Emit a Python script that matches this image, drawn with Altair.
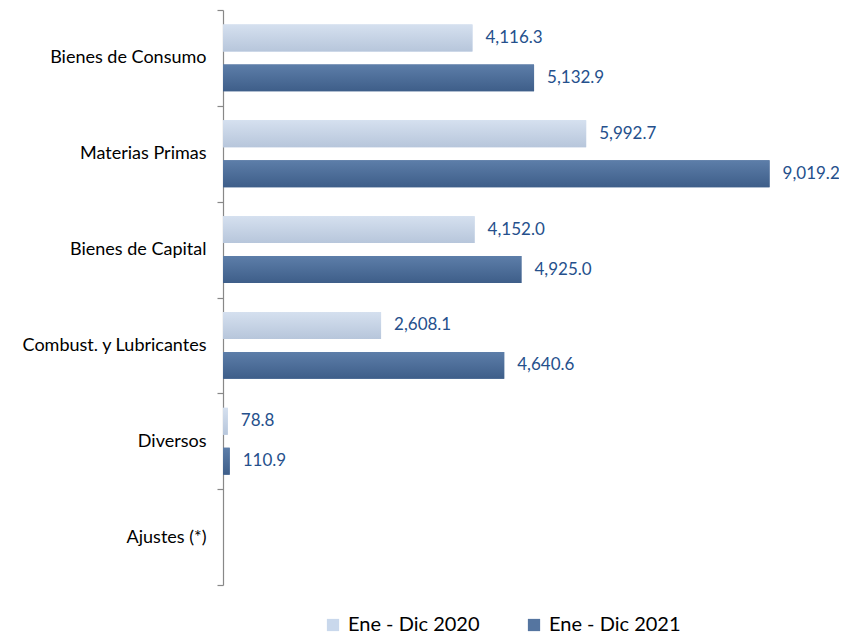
import altair as alt
import pandas as pd

categories = ["Bienes de Consumo", "Materias Primas", "Bienes de Capital",
              "Combust. y Lubricantes", "Diversos", "Ajustes (*)"]
series = ["Ene - Dic 2020", "Ene - Dic 2021"]
values_2020 = [4116.3, 5992.7, 4152.0, 2608.1, 78.8, None]
values_2021 = [5132.9, 9019.2, 4925.0, 4640.6, 110.9, None]

rows = []
for c, a, b in zip(categories, values_2020, values_2021):
    rows.append({"cat": c, "series": series[0], "value": a})
    rows.append({"cat": c, "series": series[1], "value": b})
df = pd.DataFrame(rows)

FONT = "Lato"
LABEL_BLUE = "#25508C"

y_enc = alt.Y("cat:N", sort=categories,
              scale=alt.Scale(domain=categories, paddingInner=0, paddingOuter=0),
              axis=alt.Axis(title=None, labelFont=FONT, labelFontSize=18,
                            labelColor="#000000", tickBand="extent", labelLimit=300,
                            tickColor="#888888", tickSize=6, domainColor="#888888",
                            domainWidth=1.2, tickWidth=1.2, labelPadding=11))
yoff = alt.YOffset("series:N",
                   scale=alt.Scale(domain=series, paddingInner=0.325, paddingOuter=0.3625))
x_enc = alt.X("value:Q", scale=alt.Scale(domain=[0, 10000], nice=False), axis=None)

base = alt.Chart(df)

legend_layer = base.mark_bar(opacity=1).encode(
    y=y_enc, yOffset=yoff, x=x_enc,
    color=alt.Color("series:N",
                    scale=alt.Scale(domain=series, range=["#C9D8EC", "#5575A0"]),
                    legend=alt.Legend(title=None, orient="none", direction="horizontal",
                                      legendX=100, legendY=605,
                                      symbolType="square", symbolSize=150,
                                      symbolStrokeWidth=0,
                                      labelFont=FONT, labelFontSize=20,
                                      labelColor="#000000", labelOffset=5,
                                      columnPadding=44)),
)

grad_2020 = alt.Gradient(gradient="linear", x1=0, x2=0, y1=0, y2=1,
                         stops=[alt.GradientStop(color="#D5E0EF", offset=0),
                                alt.GradientStop(color="#B7C6DB", offset=1)])
grad_2021 = alt.Gradient(gradient="linear", x1=0, x2=0, y1=0, y2=1,
                         stops=[alt.GradientStop(color="#5D7EA9", offset=0),
                                alt.GradientStop(color="#3E5E89", offset=1)])

b2020 = base.transform_filter(alt.datum.series == series[0]).mark_bar(
    color=grad_2020).encode(y=y_enc, yOffset=yoff, x=x_enc)
b2021 = base.transform_filter(alt.datum.series == series[1]).mark_bar(
    color=grad_2021).encode(y=y_enc, yOffset=yoff, x=x_enc)

text = base.mark_text(align="left", baseline="middle", dx=13, font=FONT,
                      fontSize=17, color=LABEL_BLUE).encode(
    y=y_enc, yOffset=yoff, x=x_enc,
    text=alt.Text("value:Q", format=",.1f"),
)

chart = alt.layer(legend_layer, b2020, b2021, text).properties(
    width=606, height=575,
    autosize=alt.AutoSizeParams(type="none"),
    padding={"left": 215, "top": 2, "right": 10, "bottom": 50},
).configure_view(stroke=None)

chart.save("out.html", embed_options={"renderer": "svg", "actions": False})
